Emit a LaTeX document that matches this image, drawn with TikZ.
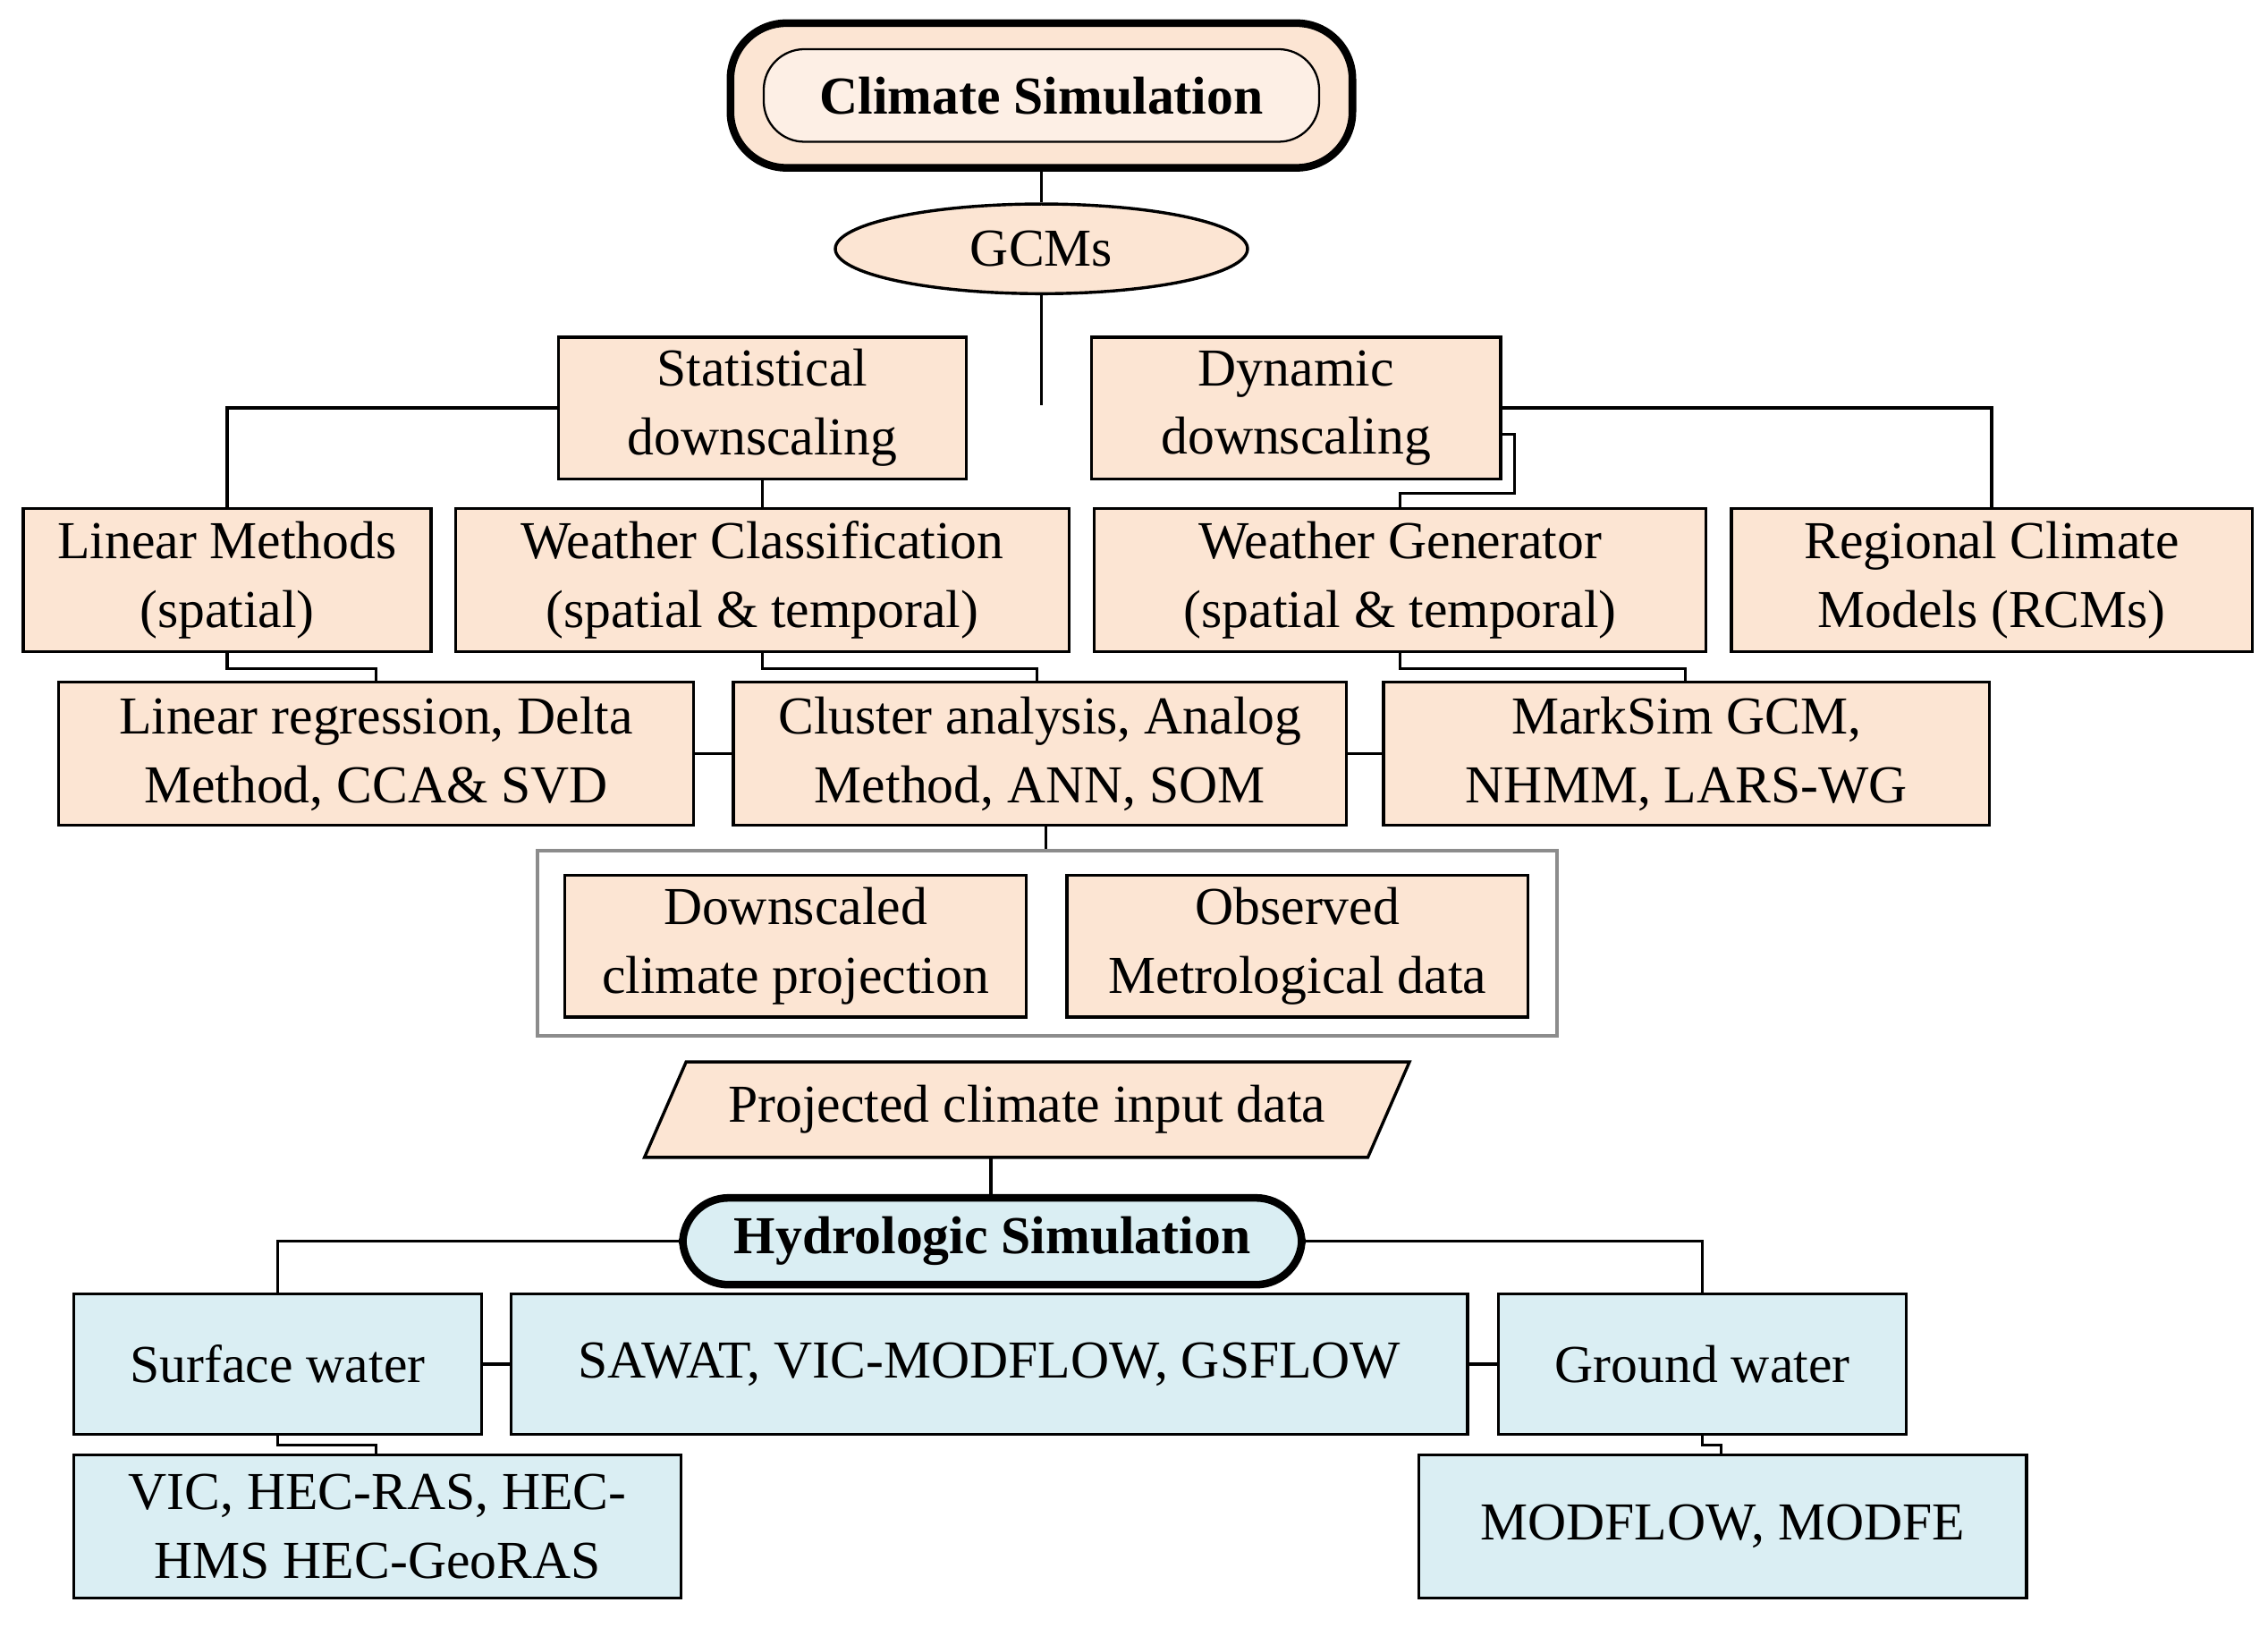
\documentclass[tikz,border=0pt]{standalone}
\usepackage{fontspec}
\setmainfont{Liberation Serif}
\usetikzlibrary{shapes.geometric}
\definecolor{peach}{RGB}{252,229,211}
\definecolor{aqua}{RGB}{218,238,243}
\definecolor{frame}{RGB}{140,140,140}
\begin{document}
\begin{tikzpicture}[x=0.02cm,y=-0.02cm,
  font=\fontsize{21}{27}\selectfont,
  box/.style={draw, line width=1.2pt, fill=#1, align=center, inner sep=0pt},
  box/.default=peach,
  pill/.style={draw, line width=3pt, rounded corners=22pt, fill=#1, align=center, inner sep=0pt, font=\fontsize{21}{24}\selectfont\bfseries},
  wire/.style={line width=1.2pt}
]
\useasboundingbox (0,0) rectangle (1568,1125);

% climate side
\node[pill=peach, minimum width=430*0.02cm, minimum height=100*0.02cm] (cs) at (720,66) {};
\draw[line width=0.8pt, rounded corners=16pt, fill=white!40!peach] (528,34) rectangle (912,98);
\node[font=\fontsize{21}{24}\selectfont\bfseries] at (720,66) {Climate Simulation};
\node[draw, ellipse, line width=1.2pt, fill=peach, minimum width=285*0.02cm, minimum height=62*0.02cm] (gcm) at (720,172) {GCMs};

\node[box, minimum width=282*0.02cm, minimum height=98*0.02cm] (sd) at (527,282) {Statistical\\downscaling};
\node[box, minimum width=283*0.02cm, minimum height=98*0.02cm] (dd) at (896,282) {Dynamic\\downscaling};

\node[box, minimum width=282*0.02cm, minimum height=99*0.02cm] (lm) at (157,401) {Linear Methods\\(spatial)};
\node[box, minimum width=424*0.02cm, minimum height=99*0.02cm] (wc) at (527,401) {Weather Classification\\(spatial \& temporal)};
\node[box, minimum width=423*0.02cm, minimum height=99*0.02cm] (wg) at (968,401) {Weather Generator\\(spatial \& temporal)};
\node[box, minimum width=360*0.02cm, minimum height=99*0.02cm] (rcm) at (1377,401) {Regional Climate\\Models (RCMs)};

\node[box, minimum width=439*0.02cm, minimum height=99*0.02cm] (lr) at (260,521) {Linear regression, Delta\\Method, CCA\& SVD};
\node[box, minimum width=424*0.02cm, minimum height=99*0.02cm] (ca) at (719,521) {Cluster analysis, Analog\\Method, ANN, SOM};
\node[box, minimum width=419*0.02cm, minimum height=99*0.02cm] (ms) at (1166,521) {MarkSim GCM,\\NHMM, LARS-WG};

\node[draw=frame, line width=1.5pt, minimum width=705*0.02cm, minimum height=128*0.02cm, inner sep=0pt] (fr) at (724,652) {};
\node[box, minimum width=319*0.02cm, minimum height=98*0.02cm] (dcp) at (550,654) {Downscaled\\climate projection};
\node[box, minimum width=319*0.02cm, minimum height=98*0.02cm] (obs) at (897,654) {Observed\\Metrological data};

\node[draw, trapezium, trapezium stretches=true, trapezium left angle=53, trapezium right angle=127, line width=1.2pt, fill=peach, minimum width=530*0.02cm, minimum height=66*0.02cm, inner sep=0pt] (pcd) at (710,767) {Projected climate input data};

% hydrologic side
\node[pill=aqua, rounded corners=18pt, minimum width=428*0.02cm, minimum height=60*0.02cm] (hs) at (686,858) {Hydrologic Simulation};

\node[box=aqua, minimum width=282*0.02cm, minimum height=97*0.02cm] (sw) at (192,943) {Surface water};
\node[box=aqua, minimum width=661*0.02cm, minimum height=97*0.02cm] (sav) at (684,943) {SAWAT, VIC-MODFLOW, GSFLOW};
\node[box=aqua, minimum width=282*0.02cm, minimum height=97*0.02cm] (gw) at (1177,943) {Ground water};
\node[box=aqua, minimum width=420*0.02cm, minimum height=99*0.02cm] (vic) at (261,1055) {VIC, HEC-RAS, HEC-\\HMS HEC-GeoRAS};
\node[box=aqua, minimum width=420*0.02cm, minimum height=99*0.02cm] (mod) at (1191,1055) {MODFLOW, MODFE};

% connectors
\draw[wire] (cs.south) -- (gcm.north);
\draw[wire] (gcm.south) -- (720,280);
\draw[wire] (sd.west |- 0,282) -| (lm.north);
\draw[wire] (dd.east |- 0,282) -| (rcm.north);
\draw[wire] (dd.east |- 0,300) -| (1047,341) -| (wg.north);
\draw[wire] (sd.south) -- (wc.north);
\draw[wire] (lm.south) |- (260,462) -- (lr.north);
\draw[wire] (wc.south) |- (717,462) -- (717,471);
\draw[wire] (wg.south) |- (1165,462) -- (1165,471);
\draw[wire] (lr.east) -- (ca.west);
\draw[wire] (ca.east) -- (ms.west);
\draw[wire] (723,571) -- (fr.north -| 723,0);
\draw[wire] (685,800) -- (hs.north -| 685,0);
\draw[wire] (hs.west) -| (sw.north);
\draw[wire] (hs.east) -| (gw.north);
\draw[wire] (sw.east) -- (sav.west);
\draw[wire] (sav.east) -- (gw.west);
\draw[wire] (sw.south) |- (260,999) -- (vic.north -| 260,0);
\draw[wire] (gw.south) |- (1190,999) -- (mod.north -| 1190,0);
\end{tikzpicture}
\end{document}
